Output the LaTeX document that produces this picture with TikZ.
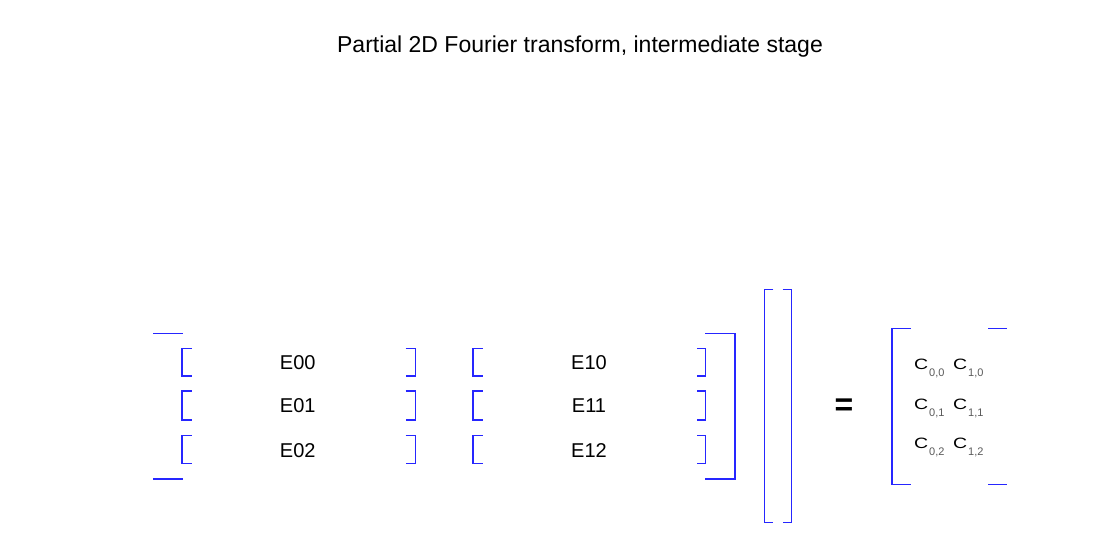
\documentclass[tikz,border=0pt]{standalone}
\usepackage{fontspec}
\setmainfont{Liberation Sans}
\begin{document}
\begin{tikzpicture}[x=1pt,y=-1pt,
  brk/.style={draw=blue!85!white,line width=1.2pt},
  etxt/.style={anchor=base,inner sep=0pt,font=\fontsize{20}{24}\selectfont},
  ctxt/.style={anchor=base west,inner sep=0pt,font=\fontsize{15}{18}\selectfont},
  sub/.style={anchor=base west,inner sep=0pt,font=\fontsize{11}{13}\selectfont,text=black!65}]
\useasboundingbox (0,0) rectangle (1106,546);
\node[anchor=base,inner sep=0pt,font=\fontsize{23}{27}\selectfont] (title) at (580,52.7) {Partial 2D Fourier transform, intermediate stage};
% outer left
\draw[brk] (153,333.3) -- (183,333.3);
\draw[brk] (153,479) -- (183,479);
% small brackets
\foreach \t/\b in {348.3/376,391/420,435.7/463.3}{
  \draw[brk] (191.7,\t) -- (182,\t) -- (182,\b) -- (191.7,\b);
  \draw[brk] (405.7,\t) -- (415.7,\t) -- (415.7,\b) -- (405.7,\b);
  \draw[brk] (482.7,\t) -- (473,\t) -- (473,\b) -- (482.7,\b);
  \draw[brk] (697,\t) -- (705.7,\t) -- (705.7,\b) -- (697,\b);
}
% outer right
\draw[brk] (705,333.3) -- (735,333.3) -- (735,479) -- (705,479);
% tall bracket
\draw[brk] (773.3,289.3) -- (764.3,289.3) -- (764.3,522.7) -- (773.3,522.7);
\draw[brk] (782.7,289.3) -- (791.7,289.3) -- (791.7,522.7) -- (782.7,522.7);
% result matrix
\draw[brk] (910.7,328.3) -- (892,328.3) -- (892,484.3) -- (910.7,484.3);
\draw[brk] (988.3,328.3) -- (1006.7,328.3);
\draw[brk] (988.3,484.3) -- (1006.7,484.3);
% entries
\node[etxt] (e00) at (297.7,369.3) {E00};
\node[etxt] (e01) at (297.7,412.7) {E01};
\node[etxt] (e02) at (297.7,457.3) {E02};
\node[etxt] (e10) at (589,369.3) {E10};
\node[etxt] (e11) at (589,412.7) {E11};
\node[etxt] (e12) at (589,457.3) {E12};
\node[anchor=center,inner sep=0pt,font=\bfseries\fontsize{32}{36}\selectfont] (eq) at (844,406.7) {=};
\foreach \r/\y in {0/369,1/409,2/448}{
  \node[ctxt] (c0\r) at (914,\y) {\scalebox{1.3}[1]{C}};
  \node[sub] (s0\r) at (929,\y+7) {0,\r};
  \node[ctxt] (c1\r) at (953,\y) {\scalebox{1.3}[1]{C}};
  \node[sub] (s1\r) at (968,\y+7) {1,\r};
}
\end{tikzpicture}
\end{document}
